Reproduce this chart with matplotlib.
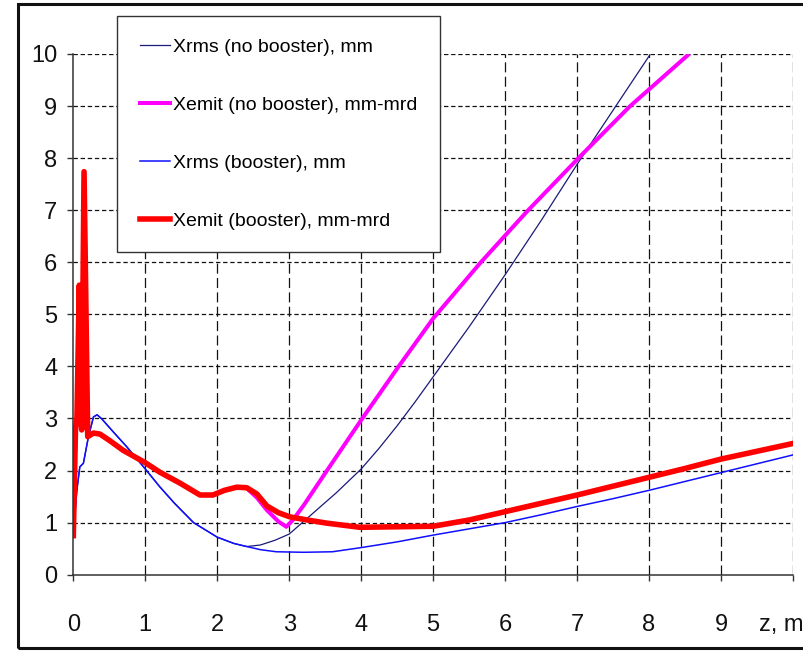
import matplotlib
matplotlib.use("Agg")
import matplotlib.pyplot as plt
from matplotlib.patches import Rectangle

plt.rcParams['font.family'] = ['Liberation Sans', 'DejaVu Sans']

# beam size / emittance along z (m)
z_rms_nb = [0, 0.05, 0.09, 0.14, 0.21, 0.28, 0.33, 0.39, 0.55, 0.74, 1.0, 1.2, 1.4, 1.67, 2.0, 2.23,
            2.41, 2.6, 2.8, 3.0, 3.33, 3.66, 4.0, 4.25, 4.5, 4.75, 5.0, 5.5, 6.0, 6.5, 7.0, 7.5, 8.01]
x_rms_nb = [0.8, 1.63, 2.07, 2.14, 2.65, 3.03, 3.07, 3.0, 2.75, 2.46, 2.03, 1.69, 1.38, 1.0, 0.72, 0.6,
            0.54, 0.57, 0.66, 0.78, 1.18, 1.58, 2.03, 2.43, 2.86, 3.32, 3.8, 4.76, 5.76, 6.8, 7.88, 8.92, 9.98]

z_emit_nb = [0, 0.03, 0.05, 0.083, 0.116, 0.149, 0.2, 0.28, 0.37, 0.5, 0.69, 1.0, 1.2, 1.48, 1.76, 1.94,
             2.1, 2.27, 2.41, 2.55, 2.69, 2.85, 2.96, 3.05, 3.2, 3.5, 4.0, 4.5, 5.0, 5.65, 6.3,
             7.04, 7.73, 8.54]
x_emit_nb = [0.75, 2.8, 3.0, 5.56, 2.78, 7.74, 2.65, 2.72, 2.7, 2.58, 2.39, 2.15, 1.97, 1.76, 1.53, 1.53,
             1.62, 1.68, 1.66, 1.48, 1.24, 1.02, 0.92, 1.05, 1.33, 1.95, 2.97, 3.96, 4.92, 5.98, 6.97,
             8.03, 8.99, 9.98]

z_rms_b = [0, 0.05, 0.09, 0.14, 0.21, 0.28, 0.33, 0.39, 0.55, 0.74, 1.0, 1.2, 1.4, 1.67, 2.0, 2.23, 2.41,
           2.6, 2.82, 3.2, 3.6, 4.0, 4.5, 5.0, 5.5, 6.0, 6.5, 7.0, 7.5, 8.0, 8.5, 9.0, 9.5, 10.0]
x_rms_b = [0.8, 1.63, 2.07, 2.14, 2.65, 3.03, 3.07, 3.0, 2.75, 2.46, 2.03, 1.69, 1.38, 1.0, 0.72, 0.6, 0.54,
           0.48, 0.44, 0.43, 0.44, 0.52, 0.63, 0.76, 0.88, 1.0, 1.15, 1.31, 1.46, 1.62, 1.79, 1.96, 2.13, 2.30]

z_emit_b = [0, 0.03, 0.05, 0.083, 0.116, 0.149, 0.2, 0.28, 0.37, 0.5, 0.69, 1.0, 1.2, 1.48, 1.76, 1.94,
            2.1, 2.27, 2.41, 2.55, 2.69, 2.85, 3.01, 3.25, 3.52, 3.98, 4.5, 5.0, 5.5, 6.0, 6.5, 7.0, 7.5,
            8.0, 8.5, 9.0, 9.5, 10.0]
x_emit_b = [0.75, 2.8, 3.0, 5.56, 2.78, 7.74, 2.65, 2.72, 2.7, 2.58, 2.39, 2.15, 1.97, 1.76, 1.53, 1.53,
            1.62, 1.68, 1.67, 1.55, 1.32, 1.19, 1.11, 1.05, 0.99, 0.91, 0.92, 0.93, 1.05, 1.21, 1.37, 1.53,
            1.70, 1.87, 2.04, 2.22, 2.37, 2.52]

labels = ['Xrms (no booster), mm', 'Xemit (no booster), mm-mrd',
          'Xrms (booster), mm', 'Xemit (booster), mm-mrd']
x_ticks = [0, 1, 2, 3, 4, 5, 6, 7, 8, 9, 10]
x_ticklabels = ['0', '1', '2', '3', '4', '5', '6', '7', '8', '9', '']
y_ticks = [0, 1, 2, 3, 4, 5, 6, 7, 8, 9, 10]

fig = plt.figure(figsize=(8.04, 6.52), dpi=100)
ax = fig.add_axes([0.0912, 0.1186, 0.8951, 0.7986])

ax.plot(z_rms_nb, x_rms_nb, color='#1a1a78', lw=0.9, label=labels[0])
ax.plot(z_emit_nb, x_emit_nb, color='#ff00ff', lw=2.9, label=labels[1])
ax.plot(z_rms_b, x_rms_b, color='#1010ff', lw=1.1, label=labels[2])
ax.plot(z_emit_b, x_emit_b, color='#ff0000', lw=4.0, label=labels[3])

ax.set_xlim(0, 10)
ax.set_ylim(0, 10)
ax.set_xticks(x_ticks, x_ticklabels)
ax.set_yticks(y_ticks)
ax.set_xticks([9.83], ['z, m'], minor=True)

for s in ['top', 'right']:
    ax.spines[s].set_visible(False)
for s in ['left', 'bottom']:
    ax.spines[s].set_color('#333333')
    ax.spines[s].set_linewidth(1.1)

ax.tick_params(axis='both', which='major', direction='out', length=4.5, width=1.0,
               color='#333333', labelsize=17, labelcolor='#111111')
ax.tick_params(axis='x', which='major', pad=24)
ax.tick_params(axis='x', which='minor', length=0, pad=28.5, labelsize=17, labelcolor='#111111')
ax.tick_params(axis='y', which='major', pad=7)

# dashed grid, longer dashes on the vertical lines
ax.grid(False)
for xv in x_ticks[1:]:
    ax.axvline(xv, color='#111111', lw=0.9, dashes=(8, 3.5), zorder=0.5)
for yv in y_ticks[1:]:
    ax.axhline(yv, color='#111111', lw=0.9, dashes=(3.5, 2.2), zorder=0.5)

leg = ax.legend(loc='upper left', bbox_to_anchor=(117.3 / 804, 1 - 15.7 / 652),
                bbox_transform=fig.transFigure, borderaxespad=0, fontsize=14,
                handlelength=1.54, handletextpad=0.2, labelspacing=2.08, borderpad=1.15,
                fancybox=False, framealpha=1, edgecolor='#333333')
leg.get_frame().set_linewidth(1.0)

# outer frame around the whole chart
fig.patches.append(Rectangle((17.7 / 804, 3.7 / 652), 1.0, 1 - 7.4 / 652,
                             transform=fig.transFigure, fill=False, lw=2.2,
                             edgecolor='#111111'))

fig.savefig('out.png', dpi=100)
